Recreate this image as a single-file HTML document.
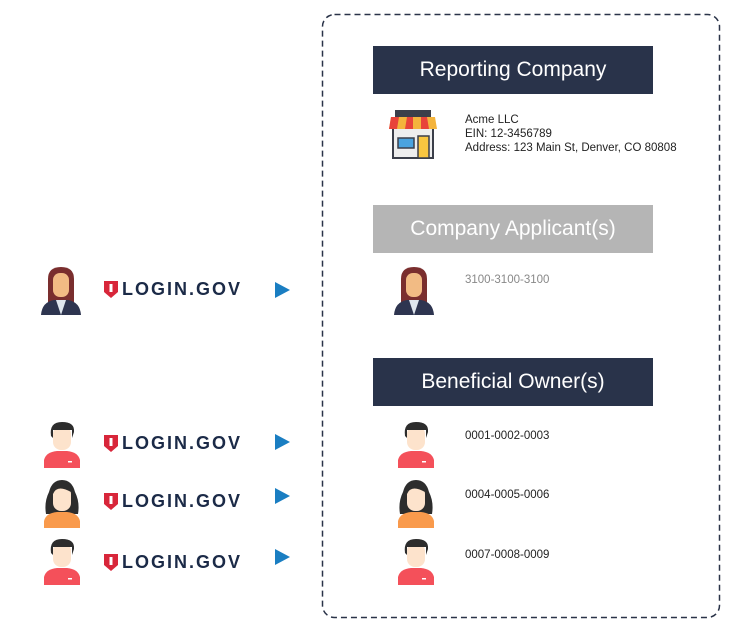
<!DOCTYPE html>
<html><head><meta charset="utf-8"><style>
body{margin:0;width:730px;height:630px;background:#fff;position:relative;font-family:"Liberation Sans",sans-serif;overflow:hidden}
.h{position:absolute;left:373px;width:280px;height:48px;color:#fff;font-size:21px;display:flex;align-items:center;justify-content:center;background:#29334a}
.t{position:absolute;left:465px;font-size:11.5px;color:#222;line-height:14px}
.lg{position:absolute;left:104px;font-size:18px;font-weight:bold;color:#1b2a47;letter-spacing:2px;display:flex;align-items:center}
.ar{position:absolute;left:275px;width:0;height:0;border-left:15px solid #1a7ec2;border-top:8px solid transparent;border-bottom:8px solid transparent}
svg{position:absolute}
</style></head><body>
<svg style="left:0;top:0" width="730" height="630"><rect x="322.5" y="14.5" width="397" height="603" rx="12" fill="none" stroke="#2a3348" stroke-width="1.5" stroke-dasharray="6 4"/></svg>
<div class="h" style="top:46px">Reporting Company</div>
<div class="h" style="top:205px;background:#b5b5b5">Company Applicant(s)</div>
<div class="h" style="top:358px">Beneficial Owner(s)</div>

<svg style="left:388px;top:108px" width="50" height="52" viewBox="0 0 50 52">
<rect x="7" y="2" width="36" height="7" fill="#3b3f4a"/>
<rect x="5" y="20" width="40" height="30" fill="#eee" stroke="#3b3f4a" stroke-width="2"/>
<path d="M3 9h44l2 12H1z" fill="#f4b43c"/>
<path d="M3 9h8l-2 12H1zM19 9h6v12h-8zM33 9h6l2 12h-8z" fill="#e8443a"/>
<rect x="10" y="30" width="16" height="10" fill="#4aa3df" stroke="#3b3f4a" stroke-width="1.5"/>
<rect x="30" y="28" width="11" height="22" fill="#f9c640" stroke="#3b3f4a" stroke-width="1.5"/>
</svg>
<div class="t" style="top:113px">Acme LLC<br>EIN: 12-3456789<br>Address: 123 Main St, Denver, CO 80808</div>
<div class="t" style="top:273px;color:#888">3100-3100-3100</div>
<div class="t" style="top:429px">0001-0002-0003</div>
<div class="t" style="top:488px">0004-0005-0006</div>
<div class="t" style="top:548px">0007-0008-0009</div>

<svg style="left:40px;top:265px" width="42" height="50" viewBox="0 0 42 50"><path d="M8 38V14Q8 2 21 2Q34 2 34 14V38z" fill="#7a2e2e"/><rect x="13" y="8" width="16" height="24" rx="7" fill="#f2bb84"/><path d="M1 50Q2 37 14 35H28Q40 37 41 50z" fill="#2e3550"/><path d="M16 35h10l-5 15z" fill="#dfe6ee"/></svg>
<svg style="left:393px;top:265px" width="42" height="50" viewBox="0 0 42 50"><path d="M8 38V14Q8 2 21 2Q34 2 34 14V38z" fill="#7a2e2e"/><rect x="13" y="8" width="16" height="24" rx="7" fill="#f2bb84"/><path d="M1 50Q2 37 14 35H28Q40 37 41 50z" fill="#2e3550"/><path d="M16 35h10l-5 15z" fill="#dfe6ee"/></svg>

<svg style="left:43px;top:420px" width="38" height="48" viewBox="0 0 38 48"><rect x="10" y="6" width="18" height="24" rx="8" fill="#fde3cc"/><path d="M8 16Q6 2 19 2Q32 2 31 12L29 18V10H10V18z" fill="#2d2d2d"/><path d="M1 48V40Q3 32 14 31H24Q35 32 37 40V48z" fill="#f4505a"/><rect x="25" y="41" width="4" height="1.5" fill="#fff"/></svg>
<svg style="left:397px;top:420px" width="38" height="48" viewBox="0 0 38 48"><rect x="10" y="6" width="18" height="24" rx="8" fill="#fde3cc"/><path d="M8 16Q6 2 19 2Q32 2 31 12L29 18V10H10V18z" fill="#2d2d2d"/><path d="M1 48V40Q3 32 14 31H24Q35 32 37 40V48z" fill="#f4505a"/><rect x="25" y="41" width="4" height="1.5" fill="#fff"/></svg>
<svg style="left:43px;top:478px" width="38" height="50" viewBox="0 0 38 50"><path d="M3 36Q1 24 6 14Q9 2 19 2Q29 2 32 14Q37 24 35 36z" fill="#2d2d2d"/><rect x="10" y="8" width="18" height="25" rx="8" fill="#fde3cc"/><path d="M10 16Q14 6 28 14V8H10z" fill="#2d2d2d"/><path d="M1 50V43Q3 35 14 34H24Q35 35 37 43V50z" fill="#f99a4c"/></svg>
<svg style="left:397px;top:478px" width="38" height="50" viewBox="0 0 38 50"><path d="M3 36Q1 24 6 14Q9 2 19 2Q29 2 32 14Q37 24 35 36z" fill="#2d2d2d"/><rect x="10" y="8" width="18" height="25" rx="8" fill="#fde3cc"/><path d="M10 16Q14 6 28 14V8H10z" fill="#2d2d2d"/><path d="M1 50V43Q3 35 14 34H24Q35 35 37 43V50z" fill="#f99a4c"/></svg>
<svg style="left:43px;top:537px" width="38" height="48" viewBox="0 0 38 48"><rect x="10" y="6" width="18" height="24" rx="8" fill="#fde3cc"/><path d="M8 16Q6 2 19 2Q32 2 31 12L29 18V10H10V18z" fill="#2d2d2d"/><path d="M1 48V40Q3 32 14 31H24Q35 32 37 40V48z" fill="#f4505a"/><rect x="25" y="41" width="4" height="1.5" fill="#fff"/></svg>
<svg style="left:397px;top:537px" width="38" height="48" viewBox="0 0 38 48"><rect x="10" y="6" width="18" height="24" rx="8" fill="#fde3cc"/><path d="M8 16Q6 2 19 2Q32 2 31 12L29 18V10H10V18z" fill="#2d2d2d"/><path d="M1 48V40Q3 32 14 31H24Q35 32 37 40V48z" fill="#f4505a"/><rect x="25" y="41" width="4" height="1.5" fill="#fff"/></svg>

<div class="lg" style="top:279px"><svg style="position:static;margin-right:4px" width="14" height="17" viewBox="0 0 14 17"><path d="M0 0H14V11L7 17L0 11z" fill="#d8263a"/><rect x="5.5" y="3" width="3" height="8" fill="#fff"/></svg>LOGIN.GOV</div>
<div class="lg" style="top:433px"><svg style="position:static;margin-right:4px" width="14" height="17" viewBox="0 0 14 17"><path d="M0 0H14V11L7 17L0 11z" fill="#d8263a"/><rect x="5.5" y="3" width="3" height="8" fill="#fff"/></svg>LOGIN.GOV</div>
<div class="lg" style="top:491px"><svg style="position:static;margin-right:4px" width="14" height="17" viewBox="0 0 14 17"><path d="M0 0H14V11L7 17L0 11z" fill="#d8263a"/><rect x="5.5" y="3" width="3" height="8" fill="#fff"/></svg>LOGIN.GOV</div>
<div class="lg" style="top:552px"><svg style="position:static;margin-right:4px" width="14" height="17" viewBox="0 0 14 17"><path d="M0 0H14V11L7 17L0 11z" fill="#d8263a"/><rect x="5.5" y="3" width="3" height="8" fill="#fff"/></svg>LOGIN.GOV</div>

<div class="ar" style="top:282px"></div>
<div class="ar" style="top:434px"></div>
<div class="ar" style="top:488px"></div>
<div class="ar" style="top:549px"></div>
</body></html>
